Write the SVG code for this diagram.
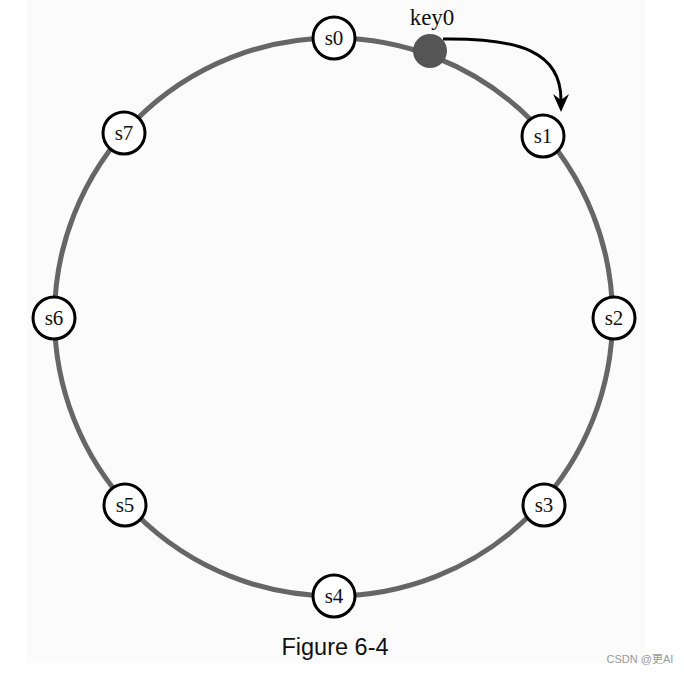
<svg xmlns="http://www.w3.org/2000/svg" width="684" height="673" viewBox="0 0 684 673">
<style>
.node circle{fill:#fff;stroke:#000;stroke-width:3}
.node text{font-family:"Liberation Serif","DejaVu Serif",serif;font-size:21px;text-anchor:middle;fill:#111}
.ring{fill:none;stroke:#666;stroke-width:5}
</style>
<defs>
<marker id="ah" markerWidth="18" markerHeight="16" refX="6" refY="8" orient="auto" markerUnits="userSpaceOnUse" viewBox="0 0 18 16">
<path d="M0,0 L18,8 L0,16 L6,8 Z" fill="#000"/>
</marker>
</defs>
<rect x="0" y="0" width="684" height="673" fill="#fff"/>
<rect x="27" y="0" width="618" height="663" fill="#fbfbfb"/>
<circle class="ring" cx="333.5" cy="317" r="279"/>
<g id="connectors">
<path d="M443,39 C520,38 561,52 561,100" fill="none" stroke="#000" stroke-width="3" marker-end="url(#ah)"/>
</g>
<g id="key0">
<circle cx="430" cy="51" r="17" fill="#555"/>
<text x="432" y="25" font-family="Liberation Serif, DejaVu Serif, serif" font-size="23" text-anchor="middle" fill="#111">key0</text>
</g>
<g id="s0" class="node"><circle cx="334" cy="38" r="21"/><text x="334" y="45">s0</text></g>
<g id="s1" class="node"><circle cx="543" cy="136" r="21"/><text x="543" y="143">s1</text></g>
<g id="s2" class="node"><circle cx="614" cy="318" r="21"/><text x="614" y="325">s2</text></g>
<g id="s3" class="node"><circle cx="544" cy="505" r="21"/><text x="544" y="512">s3</text></g>
<g id="s4" class="node"><circle cx="334" cy="596" r="21"/><text x="334" y="603">s4</text></g>
<g id="s5" class="node"><circle cx="125" cy="505" r="21"/><text x="125" y="512">s5</text></g>
<g id="s6" class="node"><circle cx="54" cy="318" r="21"/><text x="54" y="325">s6</text></g>
<g id="s7" class="node"><circle cx="124" cy="133" r="21"/><text x="124" y="140">s7</text></g>
<text x="335" y="655" font-family="Liberation Sans, Arial, sans-serif" font-size="23.5" text-anchor="middle" fill="#111">Figure 6-4</text>
<text x="640" y="663" font-family="Liberation Sans, Noto Sans CJK SC, sans-serif" font-size="11" text-anchor="middle" fill="#999">CSDN @更AI</text>
</svg>
